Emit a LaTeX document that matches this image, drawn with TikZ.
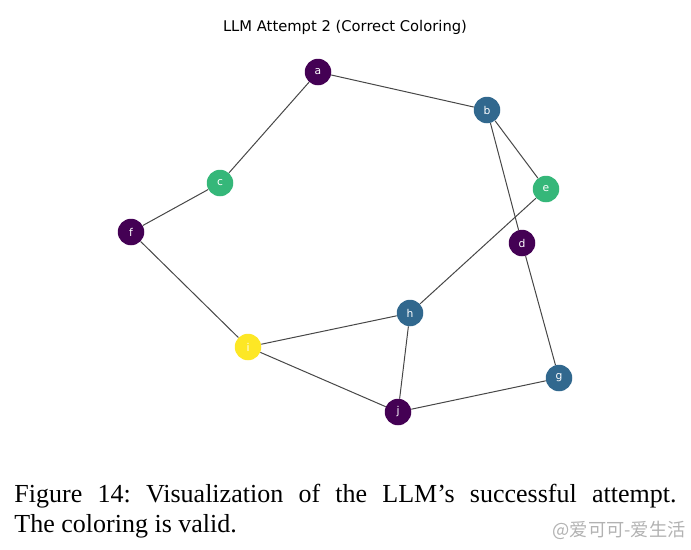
\documentclass[tikz,border=0pt]{standalone}
\usepackage{fontspec}
\setmainfont{Liberation Serif}
\newfontfamily\plotfont{DejaVu Sans}
\newfontfamily\cjkfont{Noto Sans CJK SC}
\usetikzlibrary{positioning}

\definecolor{vpurple}{HTML}{440154}
\definecolor{vblue}{HTML}{31688E}
\definecolor{vgreen}{HTML}{35B779}
\definecolor{vyellow}{HTML}{FDE725}

\begin{document}
\begin{tikzpicture}[x=0.4pt, y=-0.4pt, line cap=round, line join=round]
		
		%======================
		% STYLES
		%======================
		\tikzset{
			vertex/.style={circle, inner sep=0pt, minimum size=10.6pt, text=white,
				font=\plotfont\fontsize{4.3}{5}\selectfont},
			col0/.style={vertex, fill=vpurple},
			col1/.style={vertex, fill=vblue},
			col2/.style={vertex, fill=vgreen},
			col3/.style={vertex, fill=vyellow},
			edge/.style={draw=black!72, line width=0.4pt}
		}
		
		% page frame (pixel units)
		\useasboundingbox (0,0) rectangle (691,549);
		
		%----------------------
		% title
		%----------------------
		\node[font=\plotfont\fontsize{5.9}{7}\selectfont] (title) at (345,27) {LLM Attempt 2 (Correct Coloring)};
		
		%----------------------
		% vertices
		%----------------------
		\node[col0] (a) at (318,72)  {a};
		\node[col1] (b) at (487,110) {b};
		\node[col2] (c) at (220,183) {c};
		\node[col0] (d) at (522,243) {d};
		\node[col2] (e) at (546,189) {e};
		\node[col0] (f) at (131,232) {f};
		\node[col1] (g) at (559,378) {g};
		\node[col1] (h) at (410,313) {h};
		\node[col3] (i) at (248,347) {i};
		\node[col0] (j) at (398,412) {j};
		
		%----------------------
		% edges (behind the vertices)
		%----------------------
		\begin{scope}
			\foreach \u/\v in {a/b, a/c, c/f, f/i, b/e, b/d, e/h, d/g, h/i, h/j, i/j, j/g}
			\draw[edge] (\u) -- (\v);
		\end{scope}
		
		%----------------------
		% caption
		%----------------------
		\node[anchor=north west, inner sep=0pt, text width=264.8pt, align=justify,
			font=\fontsize{10.4}{12}\selectfont\frenchspacing] (caption) at (14,484)
			{Figure 14: Visualization of the LLM’s successful attempt.\linebreak The coloring is valid.};
		
		% watermark
		\node[anchor=west, inner sep=0pt, text=black!30, font=\cjkfont\fontsize{7.3}{8}\selectfont] (mark) at (552,530) {@爱可可-爱生活};
		
	\end{tikzpicture}
\end{document}
